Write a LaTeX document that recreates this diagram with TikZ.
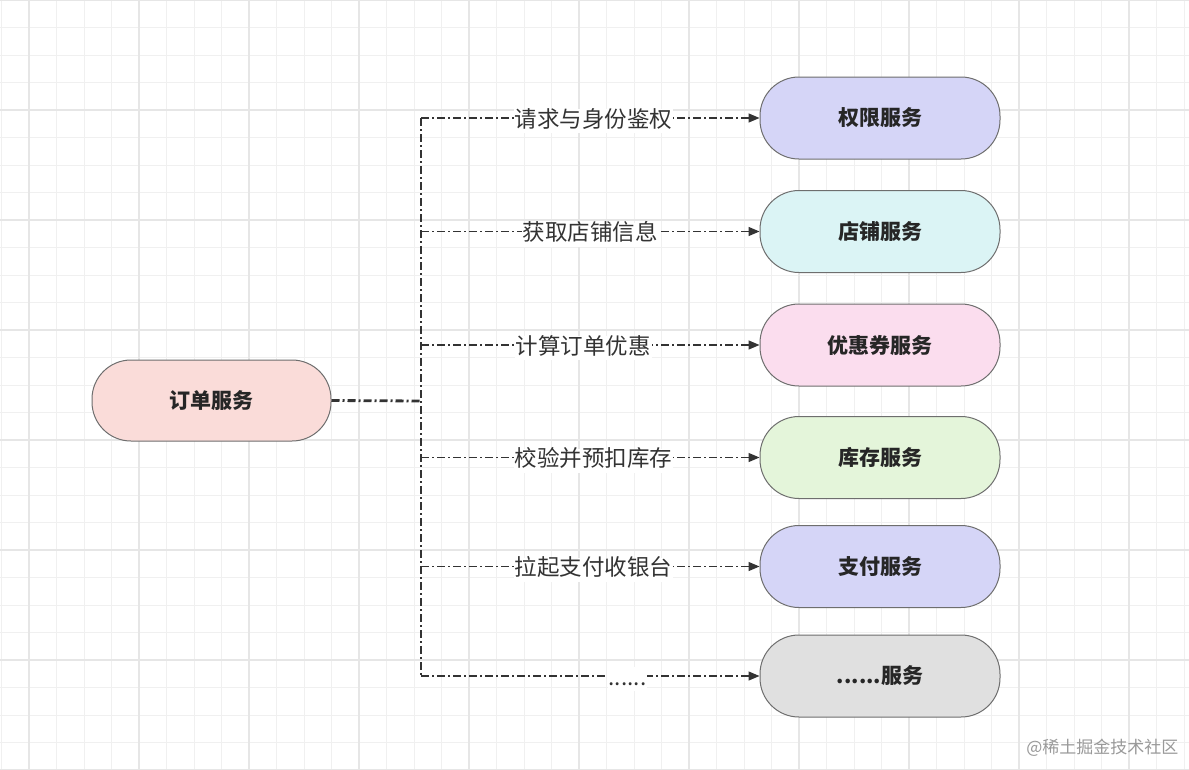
\documentclass[tikz,border=0pt]{standalone}
\usepackage{fontspec}
\setmainfont{Noto Sans CJK SC}
\usetikzlibrary{arrows.meta}
\definecolor{gridminor}{HTML}{F0F0F0}
\definecolor{gridmajor}{HTML}{E6E6E6}
\definecolor{edgec}{HTML}{333333}
\definecolor{borderc}{HTML}{6E6E6E}
\definecolor{cPink}{HTML}{FADCD9}
\definecolor{cLav}{HTML}{D5D5F7}
\definecolor{cCyan}{HTML}{DBF4F5}
\definecolor{cRose}{HTML}{FBDDEE}
\definecolor{cGreen}{HTML}{E4F5DA}
\definecolor{cGray}{HTML}{E0E0E0}
\tikzset{
  svc/.style={draw=borderc, line width=1pt, rounded corners=39pt, minimum width=240pt, minimum height=82pt, inner sep=0pt, font=\fontsize{21}{24}\selectfont\bfseries, text=black!85},
  dashdot/.style={dash pattern=on 8pt off 3pt on 2pt off 3pt},
  branch/.style={draw=edgec, line width=1.3pt, dashdot, -{Triangle[length=11pt,width=9pt]}},
  trunk/.style={draw=edgec, line width=1.3pt, dashdot},
  mainline/.style={draw=edgec, line width=2.8pt, dashdot},
  lbl/.style={fill=white, inner sep=1pt, font=\fontsize{22.5}{26}\selectfont, text=black!80, text height=17pt, text depth=5pt, yshift=-3pt}
}
\begin{document}
\begin{tikzpicture}[x=1pt,y=-1pt]
\useasboundingbox (0,0) rectangle (1189,769);
\fill[white] (0,0) rectangle (1189,769);
% grid
\foreach \i in {0,...,43} {
  \draw[gridminor, line width=1pt] ({1.5+27.5*\i},0) -- ({1.5+27.5*\i},769);
}
\foreach \j in {0,...,28} {
  \draw[gridminor, line width=1pt] (0,{27.5*\j}) -- (1189,{27.5*\j});
}
\foreach \i in {0,...,10} {
  \draw[gridmajor, line width=1.5pt] ({29+110*\i},0) -- ({29+110*\i},769);
}
\foreach \j in {0,...,7} {
  \draw[gridmajor, line width=1.5pt] (0,{110*\j}) -- (1189,{110*\j});
}
% nodes
\node[svc, fill=cPink, minimum width=239pt, minimum height=81pt] (order) at (211.5,400.5) {订单服务};
\node[svc, fill=cLav]   (auth)   at (880,118) {权限服务};
\node[svc, fill=cCyan]  (shop)   at (880,231.5) {店铺服务};
\node[svc, fill=cRose]  (coupon) at (880,345) {优惠券服务};
\node[svc, fill=cGreen] (stock)  at (880,457.5) {库存服务};
\node[svc, fill=cLav]   (pay)    at (880,566.5) {支付服务};
\node[svc, fill=cGray]  (more)   at (880,676) {......服务};
% junction coordinates
\coordinate (j) at (421,401);
\coordinate (jtop) at (421,118);
\coordinate (jbot) at (421,676);
\draw[mainline] (order.east) -- (j);
\draw[trunk] (jtop) -- (jbot);
\draw[branch] (jtop) -- node[lbl, pos=0.51] {请求与身份鉴权} (auth.west);
\draw[branch] (421,231.5) -- node[lbl, pos=0.5] {获取店铺信息} (shop.west);
\draw[branch] (421,345) -- node[lbl, pos=0.48] {计算订单优惠} (coupon.west);
\draw[branch] (421,457.5) -- node[lbl, pos=0.51] {校验并预扣库存} (stock.west);
\draw[branch] (421,566.5) -- node[lbl, pos=0.51] {拉起支付收银台} (pay.west);
\draw[branch] (jbot) -- node[lbl, pos=0.61] {......} (more.west);
% watermark
\node[font=\fontsize{17}{20}\selectfont, text=black!40, anchor=east] (wm) at (1182,748) {@稀土掘金技术社区};
\end{tikzpicture}
\end{document}
